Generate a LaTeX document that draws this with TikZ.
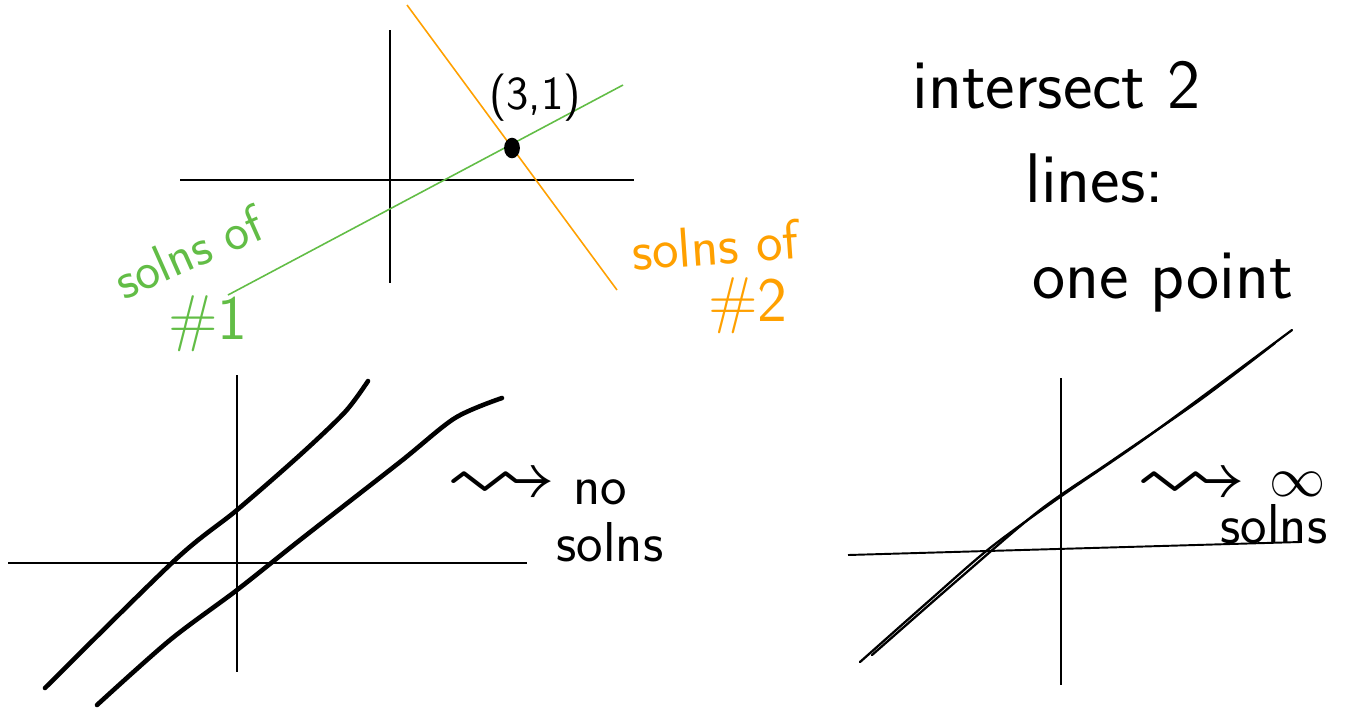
\documentclass[tikz,border=0pt]{standalone}
\usepackage{amssymb}
\usetikzlibrary{positioning}
\begin{document}
\begin{tikzpicture}[
    x=0.02cm, y=-0.02cm,
    font=\sffamily,
    axis/.style={line width=1.1pt, black},
    sol/.style={line width=0.9pt},
    curve/.style={line width=2.6pt, black, line cap=round},
    pair/.style={line width=1.3pt, black, line cap=round},
    note/.style={font=\sffamily\fontsize{40}{44}\selectfont, align=center, inner sep=0pt},
    tag/.style={font=\sffamily\fontsize{32}{36}\selectfont, align=center, inner sep=0pt},
    big/.style={font=\sffamily\fontsize{36}{40}\selectfont, inner sep=0pt}
]
\definecolor{solgreen}{RGB}{98,189,70}
\definecolor{solorange}{RGB}{255,160,0}

\useasboundingbox (0,0) rectangle (1348,711);

\coordinate (h1w) at (180,180);
\coordinate (h1e) at (634,180);
\coordinate (v1n) at (390,30);
\coordinate (v1s) at (390,283);
\coordinate (ga) at (228,295);
\coordinate (gb) at (623,85);
\coordinate (oa) at (407,5);
\coordinate (ob) at (617,290);
\draw[axis] (h1w) -- (h1e);
\draw[axis] (v1n) -- (v1s);
\draw[sol, solgreen] (ga) -- (gb);
\draw[sol, solorange] (oa) -- (ob);
\node[circle, fill=black, minimum width=9pt, minimum height=9pt, inner sep=0pt, yscale=1.3] (dot) at (512,148) {};
\node[font=\sffamily\fontsize{27}{30}\selectfont, inner sep=0pt] (pt) at (535,98) {(3,1)};

\node[tag, text=solgreen, rotate=24, font=\sffamily\fontsize{30}{34}\selectfont] (g1) at (188,252) {solns of};
\node[big, text=solgreen] (g2) at (208,324) {\#1};
\node[tag, text=solorange, rotate=4] (o1) at (715,245) {solns of};
\node[big, text=solorange] (o2) at (748,306) {\#2};

\node[note, anchor=west] (t1) at (912,85) {intersect 2};
\node[note, anchor=west] (t2) at (1025,178) {lines:};
\node[note, anchor=west] (t3) at (1032,283) {one point};

\coordinate (h2w) at (8,563);
\coordinate (h2e) at (527,563);
\coordinate (v2n) at (237,375);
\coordinate (v2s) at (237,672);
\draw[axis] (h2w) -- (h2e);
\draw[axis] (v2n) -- (v2s);
\draw[curve] plot[smooth] coordinates {(45,688) (175,560) (237,510) (300,455) (345,412) (368,381)};
\draw[curve] plot[smooth] coordinates {(97,705) (170,640) (237,590) (300,540) (400,462) (455,418) (502,398)};
\node[tag] (n0) at (502,487) {\scalebox{2}[1.7]{$\leadsto$}};
\node[tag] (n1) at (600,492) {no};
\node[tag] (n2) at (610,542) {solns};

\coordinate (h3w) at (848,555);
\coordinate (h3e) at (1300,542);
\coordinate (v3n) at (1061,378);
\coordinate (v3s) at (1061,685);
\draw[axis] (h3w) -- (h3e);
\draw[axis] (v3n) -- (v3s);
\draw[pair] plot[smooth] coordinates {(860,662) (930,600) (990,548) (1060,497) (1150,435) (1292,330)};
\draw[pair] plot[smooth] coordinates {(872,655) (960,578) (1040,510) (1110,462) (1200,400) (1275,343)};
\node[tag] (i0) at (1192,487) {\scalebox{2}[1.7]{$\leadsto$}};
\node[inner sep=0pt] (i1) at (1298,484) {\scalebox{3.2}{$\infty$}};
\node[tag] (i2) at (1274,524) {solns};
\end{tikzpicture}
\end{document}
